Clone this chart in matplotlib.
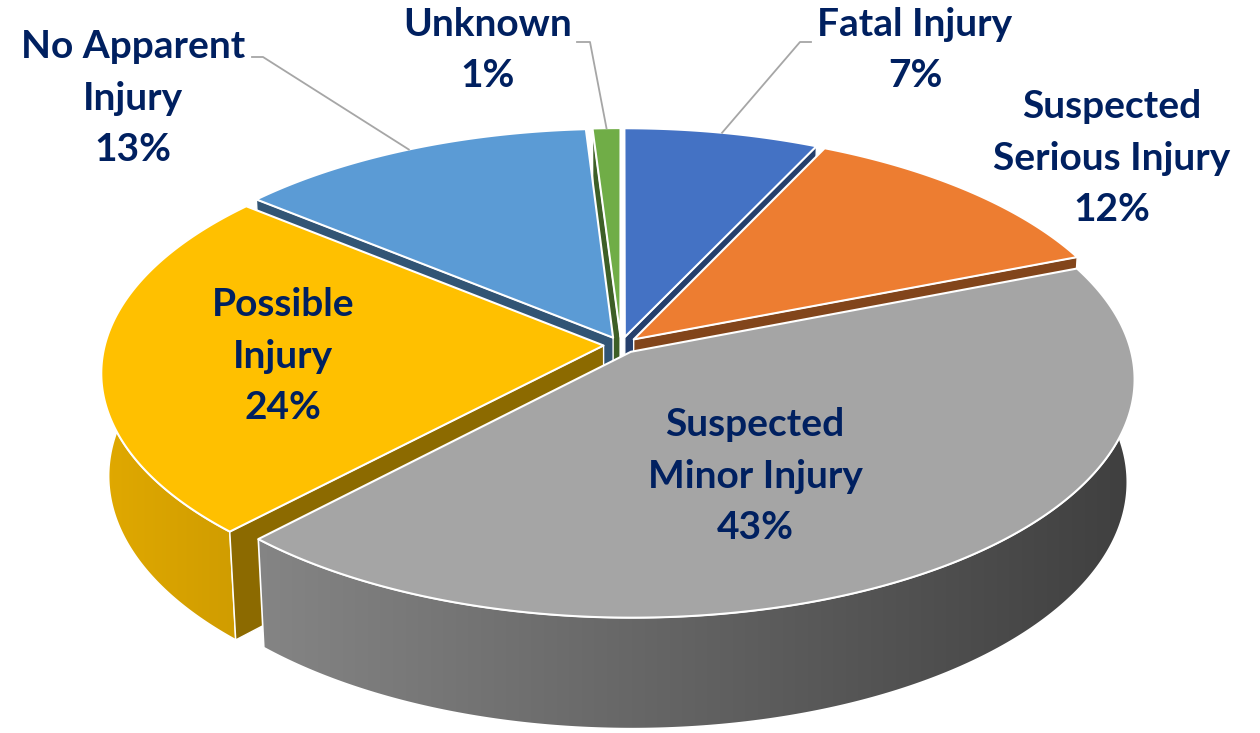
import numpy as np
import matplotlib.pyplot as plt
from matplotlib.patches import Polygon
from matplotlib.colors import to_rgb

# data
categories = ['Fatal Injury', 'Suspected\nSerious Injury', 'Suspected\nMinor Injury',
              'Possible\nInjury', 'No Apparent\nInjury', 'Unknown']
shares = [7, 12, 43, 24, 13, 1]
slice_colors = ['#4472C4', '#ED7D31', '#A5A5A5', '#FFC000', '#5B9BD5', '#70AD47']

# label centres in pixels, leader elbows for the outside ones
label_pos = [(915, 50), (1112, 158), (755, 476), (283, 356), (133, 98), (488, 50)]
elbows = {0: [(811, 42), (800, 42)], 4: [(252, 57), (263, 57)], 5: [(577, 42), (590, 42)]}

W, H = 1260, 733
CX, CY = 621, 345
TILT = np.radians(28)
DIST = 7.8
FOC = 3890
THICK = 0.235
EXPLODE = 0.035
CAM = np.array([0, DIST * np.sin(TILT), DIST * np.cos(TILT)])


def project(x, y, z):
    depth = DIST - y * np.sin(TILT) - z * np.cos(TILT)
    sy = y * np.cos(TILT) - z * np.sin(TILT)
    return np.column_stack([CX + FOC * x / depth, CY - FOC * sy / depth])


def shade(x):
    # darkening of the outer wall from left to right
    return np.clip(0.88 - 0.50 * (x - 100) / 1040, 0.3, 1)


fig = plt.figure(figsize=(W / 100, H / 100), dpi=100)
ax = fig.add_axes([0, 0, 1, 1])
ax.set_xlim(0, W)
ax.set_ylim(H, 0)
ax.axis('off')

cum = np.concatenate([[0], np.cumsum(shares)]) / sum(shares) * 2 * np.pi
mids = (cum[:-1] + cum[1:]) / 2
order = sorted(range(len(shares)), key=lambda i: -np.cos(mids[i]))

xs = np.linspace(0, W, 400)
z = 1
for i in order:
    t1, t2, mid = cum[i], cum[i + 1], mids[i]
    ox, oz = EXPLODE * np.sin(mid), -EXPLODE * np.cos(mid)
    ts = np.linspace(t1, t2, max(int(np.degrees(t2 - t1)), 2) * 2)
    top = project(ox + np.sin(ts), 0 * ts, oz - np.cos(ts))
    bot = project(ox + np.sin(ts), -THICK + 0 * ts, oz - np.cos(ts))
    apex_t = project(np.array([ox]), np.array([0.0]), np.array([oz]))
    apex_b = project(np.array([ox]), np.array([-THICK]), np.array([oz]))
    base = np.array(to_rgb(slice_colors[i]))

    # outer wall with gradient
    wall = Polygon(np.vstack([top, bot[::-1]]), closed=True, facecolor='none',
                   edgecolor='white', lw=1.2, zorder=z + 0.1)
    ax.add_patch(wall)
    grad = shade(xs)[None, :, None] * base[None, None, :]
    im = ax.imshow(grad, extent=(0, W, H, 0), aspect='auto', zorder=z, interpolation='bilinear')
    im.set_clip_path(wall)

    # radial faces, only those turned toward the viewer
    for k, phi, sgn in ((0, t1, -1), (-1, t2, 1)):
        normal = sgn * np.array([np.cos(phi), 0, np.sin(phi)])
        centre = np.array([ox + 0.5 * np.sin(phi), -THICK / 2, oz - 0.5 * np.cos(phi)])
        if normal @ (CAM - centre) <= 0:
            continue
        face = np.vstack([apex_t, top[k], bot[k], apex_b])
        ax.add_patch(Polygon(face, closed=True, facecolor=base * 0.55,
                             edgecolor='white', lw=1.0, zorder=z + 0.2))

    # top surface
    ax.add_patch(Polygon(np.vstack([apex_t, top]), closed=True, facecolor=base,
                         edgecolor='white', lw=1.5, joinstyle='round', zorder=z + 0.3))
    z += 1

# leader lines
for i, pts in elbows.items():
    mid = mids[i]
    ox, oz = EXPLODE * np.sin(mid), -EXPLODE * np.cos(mid)
    end = project(np.array([ox + np.sin(mid)]), np.array([0.0]), np.array([oz - np.cos(mid)]))[0]
    path = np.array(pts + [tuple(end)])
    ax.plot(path[:, 0], path[:, 1], color='#A6A6A6', lw=1.3, zorder=50)

for i, lab in enumerate(categories):
    x, y = label_pos[i]
    ax.text(x, y, f'{lab}\n{shares[i]}%', ha='center', va='center', color='#002060',
            fontsize=28, fontweight='bold', family='Lato', linespacing=1.56,
            multialignment='center', zorder=60)

fig.savefig('out.png', dpi=100)
